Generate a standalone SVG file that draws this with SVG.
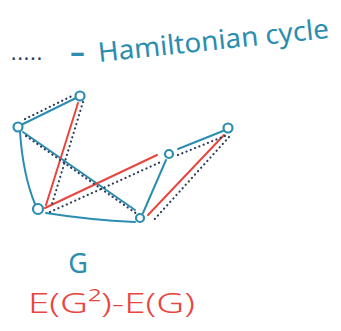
<svg xmlns="http://www.w3.org/2000/svg" width="341" height="331" viewBox="0 0 341 331">
<style>
.g{stroke:#2b8db0;stroke-width:2;fill:none;stroke-linecap:round}
.r{stroke:#e8453f;stroke-width:2;fill:none;stroke-linecap:round}
.h{stroke:#2c3e5c;stroke-width:2.2;fill:none;stroke-linecap:round;stroke-dasharray:0.1 4.5}
.n{stroke:#2b8db0;stroke-width:2.2;fill:#fff}
.tb{font-family:"Noto Sans",sans-serif;fill:#2b8db0}
.tr{font-family:"Noto Sans",sans-serif;fill:#e8453f}
</style>
<rect width="341" height="331" fill="#fff"/>
<g id="legend">
<text x="11" y="60" font-family="Noto Sans, sans-serif" font-size="20" fill="#2c3e5c" textLength="31" lengthAdjust="spacing">.....</text>
<text x="70" y="62" class="tb" font-size="26" font-weight="bold" textLength="15" lengthAdjust="spacingAndGlyphs">-</text>
<text x="0" y="0" class="tb" font-size="27" textLength="232" lengthAdjust="spacingAndGlyphs" transform="translate(99,62) rotate(-6)">Hamiltonian cycle</text>
</g>
<g id="connectors">
<path class="g" d="M21,125 L76,98"/>
<path class="g" d="M20,132 Q23,175 35,204"/>
<path class="g" d="M23,132 L135,210"/>
<path class="g" d="M46,213 Q90,220 135,222"/>
<path class="g" d="M143,213 L166,160"/>
<path class="g" d="M178,149 L223,131"/>
<path class="r" d="M78,103 L46,205"/>
<path class="r" d="M45,208 L157,155"/>
<path class="r" d="M148,215 L224,135"/>
<path class="h" d="M25,119 L74,95"/>
<path class="h" d="M83,102 L52,204"/>
<path class="h" d="M50,212 L163,161"/>
<path class="h" d="M178,155 L225,136"/>
<path class="h" d="M229,137 L152,222"/>
<path class="h" d="M26,136 L137,214"/>
</g>
<g id="A"><circle class="n" cx="80" cy="96" r="4.5"/></g>
<g id="B"><circle class="n" cx="18" cy="127" r="4.5"/></g>
<g id="C"><circle class="n" cx="38" cy="209" r="5"/></g>
<g id="D"><circle class="n" cx="140" cy="218" r="4"/></g>
<g id="E"><circle class="n" cx="169" cy="154" r="4"/></g>
<g id="F"><circle class="n" cx="228" cy="128" r="4.5"/></g>
<g id="labels">
<text x="78" y="273" class="tb" font-size="27" text-anchor="middle">G</text>
<text x="28" y="313" class="tr" font-size="28" font-weight="300" textLength="167" lengthAdjust="spacingAndGlyphs">E(G²)-E(G)</text>
</g>
</svg>
